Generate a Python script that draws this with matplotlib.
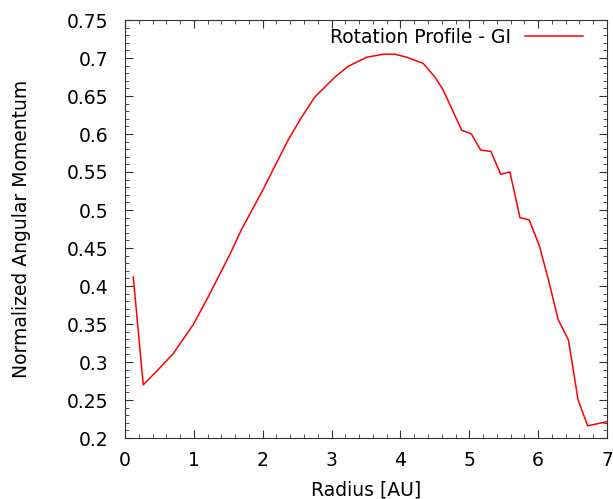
import numpy as np
import matplotlib
matplotlib.use("Agg")
import matplotlib.pyplot as plt
from matplotlib.ticker import MultipleLocator

# Rotation profile
radius = [0.12, 0.265, 0.45, 0.70, 0.99, 1.21, 1.52, 1.69, 2.0, 2.2, 2.37, 2.55,
          2.76, 3.05, 3.24, 3.51, 3.75, 3.92, 4.09, 4.33, 4.50, 4.62, 4.89, 5.03,
          5.165, 5.315, 5.455, 5.59, 5.736, 5.87, 6.017, 6.15, 6.29, 6.44, 6.58,
          6.72, 7.0]
ang_mom = [0.412, 0.270, 0.287, 0.311, 0.349, 0.386, 0.441, 0.474, 0.526, 0.562,
           0.592, 0.620, 0.649, 0.675, 0.689, 0.701, 0.705, 0.705, 0.701, 0.693,
           0.675, 0.658, 0.605, 0.600, 0.579, 0.577, 0.547, 0.550, 0.490, 0.487,
           0.453, 0.408, 0.356, 0.329, 0.250, 0.216, 0.2215]

x_ticks = np.arange(0, 8, 1)
y_ticks = [0.2, 0.25, 0.3, 0.35, 0.4, 0.45, 0.5, 0.55, 0.6, 0.65, 0.7, 0.75]
y_labels = ["0.2", "0.25", "0.3", "0.35", "0.4", "0.45", "0.5", "0.55", "0.6", "0.65", "0.7", "0.75"]

fs = 13.5
fig = plt.figure(figsize=(6.13, 4.99), dpi=100)
ax = fig.add_axes([125/613, 1 - 438/499, (607 - 125)/613, (438 - 20)/499])

ax.plot(radius, ang_mom, color="red", lw=1.1, label="Rotation Profile - GI")

ax.set_xlim(0, 7)
ax.set_ylim(0.2, 0.75)
ax.set_xticks(x_ticks)
ax.set_yticks(y_ticks)
ax.set_yticklabels(y_labels)
ax.xaxis.set_minor_locator(MultipleLocator(0.2))
ax.yaxis.set_minor_locator(MultipleLocator(0.01))
ax.tick_params(which="both", direction="in", top=True, right=True, color="#333333",
               labelsize=fs)
ax.tick_params(axis="x", which="major", pad=9)
ax.tick_params(axis="y", which="major", pad=12)
ax.tick_params(which="major", length=6)
ax.tick_params(which="minor", length=3)
for s in ax.spines.values():
    s.set_color("#333333")

ax.set_xlabel("Radius [AU]", fontsize=fs, va="center")
ax.set_ylabel("Normalized Angular Momentum", fontsize=fs, va="center")
ax.xaxis.set_label_coords(0.5, -0.124)
ax.yaxis.set_label_coords(-0.215, 0.5)

leg = ax.legend(loc="upper right", frameon=False, fontsize=fs, handlelength=3.1,
                markerfirst=False, borderaxespad=0.9, handletextpad=0.7,
                bbox_to_anchor=(1.0, 1.04))

fig.savefig("out.png", dpi=100)
